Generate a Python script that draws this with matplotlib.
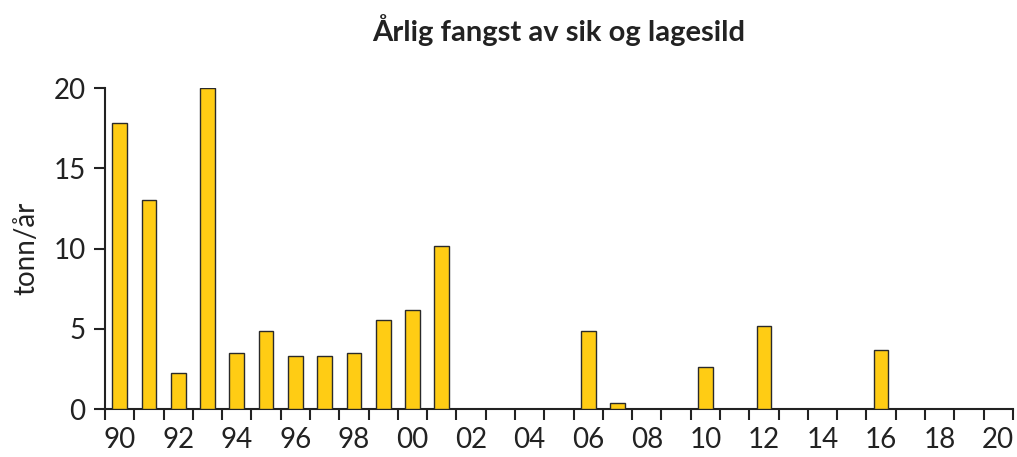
import numpy as np
import matplotlib.pyplot as plt

plt.rcParams['font.family'] = ['Lato', 'DejaVu Sans']

# annual catch, 1990-2020
years = list(range(1990, 2021))
catch = [17.8, 13.0, 2.25, 20.0, 3.5, 4.85, 3.3, 3.3, 3.5, 5.55, 6.2, 10.15,
         0, 0, 0, 0, 4.85, 0.35, 0, 0, 2.6, 0, 5.2, 0, 0, 0, 3.65, 0, 0, 0, 0]
year_labels = ['%02d' % (y % 100) for y in years]

fig = plt.figure(figsize=(10.17, 4.57), dpi=100)
ax = fig.add_axes([0.1032, 0.105, 0.8928, 0.702])

x = np.arange(len(years))
ax.bar(x, catch, width=0.5, color='#FFCC14', edgecolor='#2a2a2a', linewidth=1.0, zorder=3)

ax.set_xlim(-0.5, len(years) - 0.5)
ax.set_ylim(0, 20)

# tick marks between categories, labels under every second year
ax.set_xticks(np.arange(-0.5, len(years), 1.0))
ax.set_xticklabels([])
ax.set_xticks(x[::2], minor=True)
ax.set_xticklabels(year_labels[::2], minor=True, fontsize=20, color='#222222')
ax.tick_params(axis='x', which='major', length=8, width=1.5, direction='out', color='#222222')
ax.tick_params(axis='x', which='minor', length=0, pad=13)

ax.set_yticks([0, 5, 10, 15, 20])
ax.tick_params(axis='y', length=8, width=1.5, direction='out', labelsize=20,
               color='#222222', labelcolor='#222222', pad=6)

for side in ['top', 'right']:
    ax.spines[side].set_visible(False)
for side in ['left', 'bottom']:
    ax.spines[side].set_linewidth(1.5)
    ax.spines[side].set_color('#222222')

ax.set_ylabel('tonn/år', fontsize=20, color='#222222', labelpad=10)
ax.set_title('Årlig fangst av sik og lagesild', fontsize=21, fontweight='bold',
             color='#222222', pad=34)

fig.savefig('out.png', dpi=100)
